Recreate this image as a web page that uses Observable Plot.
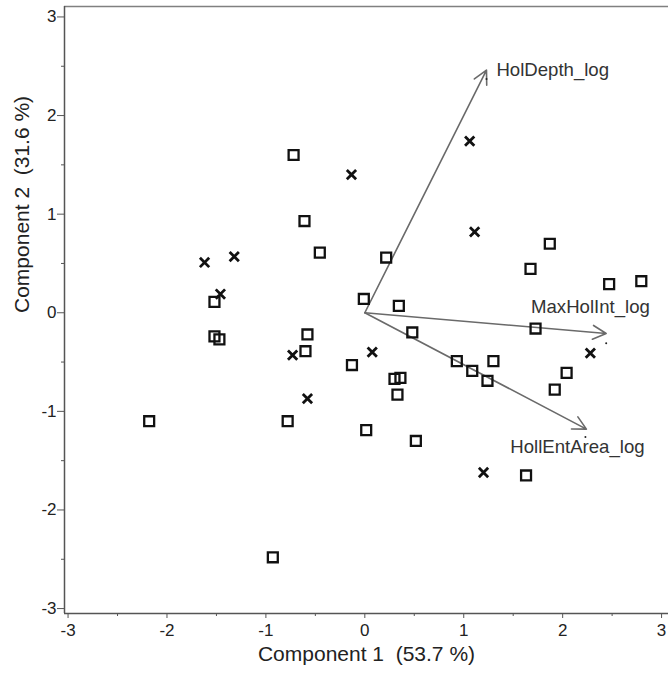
<!DOCTYPE html>
<html>
<head>
<meta charset="utf-8">
<script src="https://cdn.jsdelivr.net/npm/d3@7"></script>
<script src="https://cdn.jsdelivr.net/npm/@observablehq/plot@0.6"></script>
<style>
  html, body { margin: 0; padding: 0; background: #fff; }
  svg { display: block; }
</style>
</head>
<body>
<div id="chart"></div>
<script>
// Observations (group A: open squares)
const squareX = [-0.72, -0.61, -0.455, -1.52, -0.01, -1.52, -1.47, -0.58, -0.60, -2.18, -0.78, -0.13, 0.014, -0.93,
  0.216, 0.344, 1.675, 0.48, 0.30, 0.36, 0.33, 0.93, 1.086, 1.24, 1.30, 0.516, 1.63, 1.87, 2.47, 2.795, 1.726, 2.04, 1.92];
const squareY = [1.60, 0.93, 0.61, 0.11, 0.14, -0.24, -0.27, -0.22, -0.39, -1.10, -1.10, -0.53, -1.19, -2.48,
  0.56, 0.07, 0.445, -0.20, -0.67, -0.66, -0.83, -0.49, -0.59, -0.69, -0.49, -1.30, -1.65, 0.70, 0.29, 0.32, -0.16, -0.61, -0.78];
// Observations (group B: crosses)
const crossX = [-0.135, -1.62, -1.32, -1.46, -0.73, -0.58, 0.075, 1.06, 1.11, 1.20, 2.28];
const crossY = [1.40, 0.51, 0.57, 0.19, -0.43, -0.87, -0.40, 1.74, 0.82, -1.62, -0.41];
// Variable loadings
const loadNames = ["HolDepth_log", "MaxHolInt_log", "HollEntArea_log"];
const loadX = [1.23, 2.44, 2.24];
const loadY = [2.46, -0.21, -1.18];
const labelX = [1.33, 1.68, 1.47];
const labelY = [2.46, 0.06, -1.36];
const markerX = [1.23, 2.44, 2.23];
const markerY = [2.37, -0.31, -1.26];
// Axes
const xTicks = [-3, -2, -1, 0, 1, 2, 3];
const yTicks = [-3, -2, -1, 0, 1, 2, 3];
const tickLabels = ["-3", "-2", "-1", "0", "1", "2", "3"];
const minorTicks = [-2.5, -1.5, -0.5, 0.5, 1.5, 2.5];
const xTitle = "Component 1  (53.7 %)";
const yTitle = "Component 2  (31.6 %)";

const squares = squareX.map((x, i) => ({x, y: squareY[i]}));
const crosses = crossX.map((x, i) => ({x, y: crossY[i]}));
const loadings = loadNames.map((name, i) => ({name, x: loadX[i], y: loadY[i], lx: labelX[i], ly: labelY[i], mx: markerX[i], my: markerY[i]}));
const xTickData = xTicks.map((v, i) => ({v, label: tickLabels[i]}));
const yTickData = yTicks.map((v, i) => ({v, label: tickLabels[i]}));

const xDom = [-3.036, 3.07];
const yDom = [-3.05, 3.106];
const font = "Arial, 'Liberation Sans', sans-serif";

const chart = Plot.plot({
  width: 668,
  height: 675,
  marginLeft: 64,
  marginRight: 0,
  marginTop: 6,
  marginBottom: 62,
  x: {domain: xDom, axis: null},
  y: {domain: yDom, axis: null},
  style: {fontFamily: font, fontSize: "16px", color: "#222", background: "#fff"},
  marks: [
    // frame lines
    Plot.ruleY([yDom[1]], {stroke: "#808080", strokeWidth: 1.3}),
    Plot.ruleX([xDom[0]], {stroke: "#555", strokeWidth: 1.5}),
    Plot.ruleY([yDom[0]], {stroke: "#555", strokeWidth: 1.5}),
    // axes ticks
    Plot.axisX({ticks: xTicks, anchor: "bottom", tickSize: 5, text: null, stroke: "#555", label: null}),
    Plot.axisX({ticks: minorTicks, anchor: "bottom", tickSize: 3, text: null, stroke: "#555", label: null}),
    Plot.axisY({ticks: yTicks, anchor: "left", tickSize: 7, text: null, stroke: "#555", label: null}),
    Plot.axisY({ticks: minorTicks, anchor: "left", tickSize: 3, text: null, stroke: "#555", label: null}),
    // tick labels
    Plot.text(xTickData, {x: "v", text: "label", frameAnchor: "bottom", lineAnchor: "top", dy: 10, fontSize: 17, fill: "#222"}),
    Plot.text(yTickData, {y: "v", text: "label", frameAnchor: "left", textAnchor: "end", dx: -8, fontSize: 17, fill: "#222"}),
    // loadings arrows
    Plot.arrow(loadings, {x1: 0, y1: 0, x2: "x", y2: "y", stroke: "#6a6a6a", strokeWidth: 1.6, headLength: 14, headAngle: 55}),
    Plot.dot(loadings, {x: "mx", y: "my", r: 1, fill: "#222", stroke: null}),
    Plot.text(loadings, {x: "lx", y: "ly", text: "name", textAnchor: "start", fontSize: 18.6, fill: "#333"}),
    // observations
    Plot.dot(squares, {x: "x", y: "y", symbol: "square", r: 5.6, stroke: "#111", strokeWidth: 2.3, fill: "none"}),
    Plot.dot(crosses, {x: "x", y: "y", symbol: "times", r: 4.3, stroke: "#111", strokeWidth: 2.8}),
    // axis titles
    Plot.text([xTitle], {frameAnchor: "bottom", text: d => d, dy: 47, fontSize: 21, fill: "#222"}),
    Plot.text([yTitle], {frameAnchor: "left", text: d => d, rotate: -90, dx: -42, dy: 3, fontSize: 21, fill: "#222"})
  ]
});
document.getElementById("chart").append(chart);
</script>
</body>
</html>
